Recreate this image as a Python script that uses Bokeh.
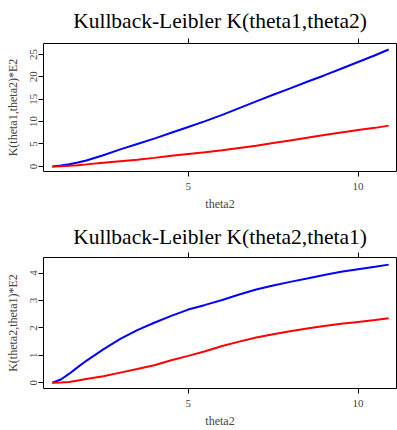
from bokeh.plotting import figure
from bokeh.layouts import column
from bokeh.models import FixedTicker, LinearAxis, Range1d, Title
from bokeh.embed import file_html
from bokeh.resources import INLINE

theta2 = [1.0, 1.25, 1.5, 1.75, 2.0, 2.5, 3.0, 3.5, 4.0, 4.5, 5.0, 5.5, 6.0,
          6.5, 7.0, 7.5, 8.0, 8.5, 9.0, 9.5, 10.0, 10.5, 10.9]

# Upper panel: K(theta1, theta2) * E2
k12_blue = [0.0, 0.2, 0.5, 0.85, 1.3, 2.5, 3.8, 5.0, 6.2, 7.5, 8.8, 10.1,
            11.5, 13.0, 14.5, 16.0, 17.4, 18.9, 20.3, 21.8, 23.3, 24.8, 26.1]
k12_red = [0.0, 0.05, 0.15, 0.28, 0.45, 0.8, 1.15, 1.5, 1.9, 2.35, 2.75,
           3.15, 3.6, 4.1, 4.6, 5.2, 5.8, 6.4, 7.0, 7.55, 8.1, 8.6, 9.1]

# Lower panel: K(theta2, theta1) * E2
k21_blue = [0.0, 0.12, 0.33, 0.57, 0.8, 1.22, 1.6, 1.92, 2.19, 2.44, 2.67,
            2.84, 3.02, 3.22, 3.40, 3.55, 3.68, 3.80, 3.93, 4.05, 4.14, 4.23,
            4.31]
k21_red = [0.0, 0.01, 0.03, 0.08, 0.14, 0.24, 0.37, 0.5, 0.64, 0.82, 0.98,
           1.15, 1.34, 1.5, 1.65, 1.77, 1.88, 1.98, 2.07, 2.15, 2.22, 2.29,
           2.35]

x_ticks = [5, 10]
y_ticks_top = [0, 5, 10, 15, 20, 25]
y_ticks_bottom = [0, 1, 2, 3, 4]

titles = ["Kullback-Leibler K(theta1,theta2)", "Kullback-Leibler K(theta2,theta1)"]
ylabels = ["K(theta1,theta2)*E2", "K(theta2,theta1)*E2"]
xlabel = "theta2"

SERIF = "'Liberation Serif', serif"


def make_panel(title, ylabel, blue, red, yticks, yrange, borders, title_standoff):
    top, bottom = borders
    p = figure(width=397, height=215, output_backend="svg", toolbar_location=None,
               x_range=Range1d(0.74, 11.13), y_range=Range1d(*yrange),
               min_border_left=43, min_border_right=1,
               min_border_top=top, min_border_bottom=bottom,
               x_axis_label=xlabel, y_axis_label=ylabel)
    p.title = Title(text=title, align="center", text_font=SERIF,
                    text_font_size="21.5px", text_font_style="normal",
                    text_color="black", standoff=title_standoff)
    p.xgrid.visible = False
    p.ygrid.visible = False
    p.outline_line_color = "black"
    p.outline_line_width = 1
    p.background_fill_color = "white"
    p.border_fill_color = "white"

    p.line(theta2, blue, color="#0000FF", line_width=2)
    p.line(theta2, red, color="#FF0000", line_width=2)

    for ax in p.xaxis:
        ax.ticker = FixedTicker(ticks=x_ticks)
        ax.axis_line_color = None
        ax.major_tick_in = 0
        ax.major_tick_out = 5
        ax.minor_tick_line_color = None
        ax.major_label_standoff = 6
        ax.axis_label_standoff = 4
        ax.major_label_text_font = SERIF
        ax.major_label_text_font_size = "11px"
        ax.axis_label_text_font = SERIF
        ax.axis_label_text_font_size = "12px"
        ax.axis_label_text_font_style = "normal"
    for ax in p.yaxis:
        ax.ticker = FixedTicker(ticks=yticks)
        ax.axis_line_color = None
        ax.major_tick_in = 0
        ax.major_tick_out = 5
        ax.minor_tick_line_color = None
        ax.major_label_orientation = "vertical"
        ax.major_label_standoff = 1
        ax.axis_label_standoff = 8
        ax.major_label_text_font = SERIF
        ax.major_label_text_font_size = "11px"
        ax.axis_label_text_font = SERIF
        ax.axis_label_text_font_size = "12px"
        ax.axis_label_text_font_style = "normal"

    top_ax = LinearAxis(ticker=FixedTicker(ticks=x_ticks), axis_line_color=None,
                        major_tick_in=0, major_tick_out=5,
                        minor_tick_line_color=None,
                        major_label_text_color=None,
                        major_label_standoff=0)
    p.add_layout(top_ax, "above")
    return p


p1 = make_panel(titles[0], ylabels[0], k12_blue, k12_red, y_ticks_top,
                (-1.14, 27.43), (38, 44), 12)
p2 = make_panel(titles[1], ylabels[1], k21_blue, k21_red, y_ticks_bottom,
                (-0.21, 4.57), (42, 38), 7)

layout = column(p1, p2, spacing=0)
open("out.html", "w").write(file_html(layout, INLINE))
